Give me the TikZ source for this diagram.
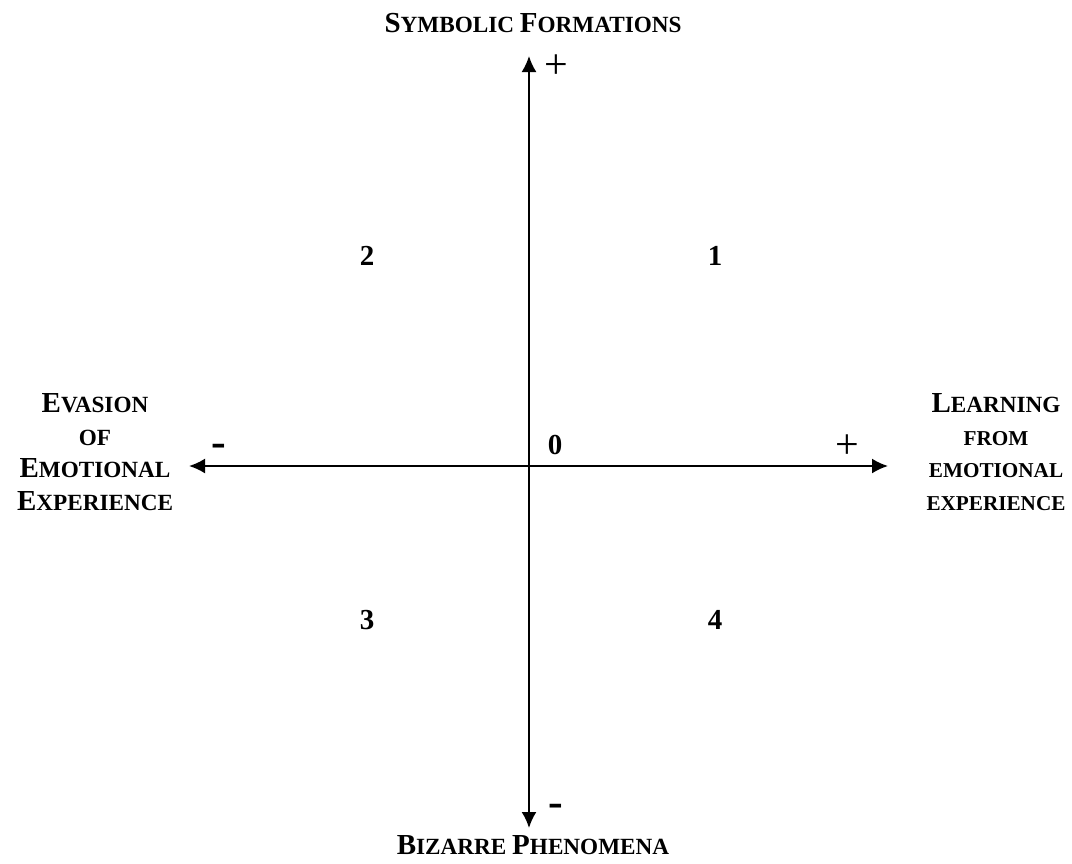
\documentclass[tikz,border=0pt]{standalone}
\usepackage{fontspec}
\setmainfont{Liberation Serif}
\usetikzlibrary{arrows.meta}

\newcommand{\capbig}[1]{{\fontsize{14.5}{16.25}\selectfont #1}}
\newcommand{\capless}[1]{{\fontsize{10.6}{16.25}\selectfont #1}}

\begin{document}
\begin{tikzpicture}[x=0.5pt, y=-0.5pt,
  axis/.style={line width=1pt, {Latex[length=8pt,width=7.5pt]}-{Latex[length=8pt,width=7.5pt]}},
  label node/.style={font=\bfseries\fontsize{11.6}{16.25}\selectfont, align=center, inner sep=0pt},
  quad node/.style={font=\bfseries\fontsize{14.5}{15}\selectfont, inner sep=0pt},
  sign node/.style={font=\fontsize{21}{21}\selectfont, inner sep=0pt},
  minus node/.style={font=\bfseries\fontsize{22}{22}\selectfont, inner sep=0pt}]
\useasboundingbox (0,0) rectangle (1072,863);

% axis ends
\coordinate (top) at (529,56);
\coordinate (bottom) at (529,828);
\coordinate (left) at (189,466);
\coordinate (right) at (888,466);

% axes
\draw[axis] (bottom) -- (top);
\draw[axis] (left) -- (right);

% signs
\node[sign node] (plustop) at (556,67) {+};
\node[sign node] (plusright) at (847,447) {+};
\node[minus node] (minusleft) at (219,450) {-};
\node[minus node] (minusbottom) at (556,810) {-};

% origin and quadrants
\node[quad node] (q0) at (555,445) {0};
\node[quad node] (q1) at (715,256) {1};
\node[quad node] (q2) at (367,256) {2};
\node[quad node] (q3) at (367,620) {3};
\node[quad node] (q4) at (715,620) {4};

% top / bottom
\node[label node] (symbolic) at (533,23)
  {\capbig{S}YMBOLIC \capbig{F}ORMATIONS};
\node[label node] (bizarre) at (533,845)
  {\capbig{B}IZARRE \capbig{P}HENOMENA};

% left / right
\node[label node] (evasion) at (95,452)
  {\capbig{E}VASION\\
   OF\\
   \capbig{E}MOTIONAL\\
   \capbig{E}XPERIENCE};
\node[label node] (learning) at (996,452)
  {\capbig{L}EARNING\\
   \capless{FROM}\\
   \capless{EMOTIONAL}\\
   \capless{EXPERIENCE}};

\end{tikzpicture}
\end{document}
